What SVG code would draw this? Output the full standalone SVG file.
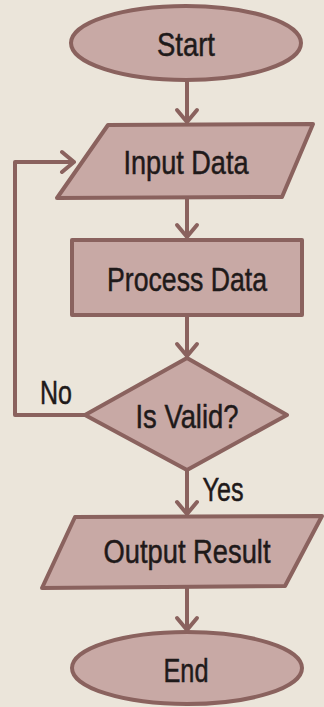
<svg xmlns="http://www.w3.org/2000/svg" width="324" height="707" viewBox="0 0 324 707">
<defs>
<style>
.shape{fill:#c8a9a5;stroke:#8a625e;stroke-width:4;stroke-linejoin:round}
.edge{fill:none;stroke:#8a625e;stroke-width:4;stroke-linecap:round;stroke-linejoin:round}
.lbl{font-family:"Liberation Sans",Arial,sans-serif;font-size:33px;fill:#1f1a1a;stroke:#1f1a1a;stroke-width:0.5;text-anchor:middle}
</style>
</defs>
<rect width="324" height="707" fill="#ebe5da"/>
<g id="edges">
<path class="edge" d="M187 80 V122 M177 110 L187 122 L197 110"/>
<path class="edge" d="M187 197 V237 M177 225 L187 237 L197 225"/>
<path class="edge" d="M187 315 V356 M177 344 L187 356 L197 344"/>
<path class="edge" d="M85 415 H15 V162 H74 M62 152 L74 162 L62 172"/>
<path class="edge" d="M187 470 V514 M177 502 L187 514 L197 502"/>
<path class="edge" d="M187 587 V630 M177 618 L187 630 L197 618"/>
</g>
<g id="start">
<ellipse class="shape" cx="186" cy="43" rx="115" ry="37"/>
<text class="lbl" x="186" y="56" textLength="58" lengthAdjust="spacingAndGlyphs">Start</text>
</g>
<g id="input">
<polygon class="shape" points="108,125 313,124 282,197 57,198"/>
<text class="lbl" x="186" y="174" textLength="125" lengthAdjust="spacingAndGlyphs">Input Data</text>
</g>
<g id="process">
<rect class="shape" x="72" y="240" width="230" height="75"/>
<text class="lbl" x="187" y="291" textLength="160" lengthAdjust="spacingAndGlyphs">Process Data</text>
</g>
<g id="decision">
<polygon class="shape" points="187,358 287,415 187,470 85,415"/>
<text class="lbl" x="187" y="428" textLength="103" lengthAdjust="spacingAndGlyphs">Is Valid?</text>
</g>
<text class="lbl" x="56" y="404" textLength="32" lengthAdjust="spacingAndGlyphs">No</text>
<text class="lbl" x="223" y="501" textLength="41" lengthAdjust="spacingAndGlyphs">Yes</text>
<g id="output">
<polygon class="shape" points="75,517 322,516 285,586 42,588"/>
<text class="lbl" x="187" y="563" textLength="167" lengthAdjust="spacingAndGlyphs">Output Result</text>
</g>
<g id="end">
<ellipse class="shape" cx="187" cy="668" rx="115" ry="36"/>
<text class="lbl" x="186" y="682" textLength="45" lengthAdjust="spacingAndGlyphs">End</text>
</g>
</svg>
